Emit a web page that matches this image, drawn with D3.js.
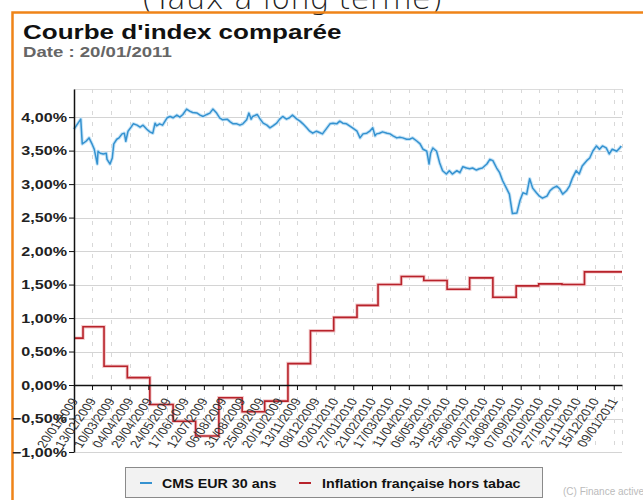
<!DOCTYPE html>
<html>
<head>
<meta charset="utf-8">
<script src="https://cdn.jsdelivr.net/npm/d3@7"></script>
<style>
  html, body { margin: 0; padding: 0; background: #fff; }
  svg { display: block; }
  text { font-family: "Liberation Sans", Arial, sans-serif; }
</style>
</head>
<body>
<svg id="chart" width="643" height="500"></svg>
<script>
// Axis ticks (dd/mm/yyyy)
const tickLabels = ["20/01/2009","13/02/2009","10/03/2009","04/04/2009","29/04/2009","24/05/2009",
  "17/06/2009","12/07/2009","06/08/2009","31/08/2009","25/09/2009","20/10/2009","13/11/2009",
  "08/12/2009","02/01/2010","27/01/2010","21/02/2010","17/03/2010","11/04/2010","06/05/2010",
  "31/05/2010","25/06/2010","20/07/2010","13/08/2010","07/09/2010","02/10/2010","27/10/2010",
  "21/11/2010","15/12/2010","09/01/2011"];
const yTicks = [-1, -0.5, 0, 0.5, 1, 1.5, 2, 2.5, 3, 3.5, 4];

// CMS EUR 30 ans (%)
const cmsDates = ["2009-01-20","2009-01-29","2009-01-31","2009-02-05","2009-02-09","2009-02-13","2009-02-16",
  "2009-02-20","2009-02-21","2009-02-24","2009-02-28","2009-03-04","2009-03-05","2009-03-09","2009-03-12",
  "2009-03-14","2009-03-18","2009-03-21","2009-03-25","2009-03-28","2009-03-30","2009-04-02","2009-04-06",
  "2009-04-09","2009-04-14","2009-04-18","2009-04-22","2009-04-27","2009-05-01","2009-05-05","2009-05-08",
  "2009-05-10","2009-05-14","2009-05-18","2009-05-24","2009-05-28","2009-06-01","2009-06-06","2009-06-10",
  "2009-06-14","2009-06-19","2009-06-23","2009-06-27","2009-07-03","2009-07-07","2009-07-11","2009-07-16",
  "2009-07-20","2009-07-24","2009-07-29","2009-08-02","2009-08-06","2009-08-12","2009-08-16","2009-08-20",
  "2009-08-25","2009-08-29","2009-09-02","2009-09-07","2009-09-10","2009-09-13","2009-09-15","2009-09-21",
  "2009-09-25","2009-09-29","2009-10-04","2009-10-08","2009-10-12","2009-10-17","2009-10-21","2009-10-25",
  "2009-10-30","2009-11-03","2009-11-07","2009-11-13","2009-11-17","2009-11-21","2009-11-26","2009-11-30",
  "2009-12-04","2009-12-09","2009-12-13","2009-12-17","2009-12-23","2009-12-27","2009-12-31","2010-01-05",
  "2010-01-09","2010-01-13","2010-01-18","2010-01-22","2010-01-26","2010-02-01","2010-02-05","2010-02-09",
  "2010-02-14","2010-02-18","2010-02-22","2010-02-25","2010-02-27","2010-03-03","2010-03-07","2010-03-13",
  "2010-03-17","2010-03-21","2010-03-26","2010-03-30","2010-04-03","2010-04-08","2010-04-12","2010-04-16",
  "2010-04-22","2010-04-26","2010-04-30","2010-05-05","2010-05-08","2010-05-10","2010-05-13","2010-05-18",
  "2010-05-22","2010-05-26","2010-05-31","2010-06-04","2010-06-08","2010-06-14","2010-06-18","2010-06-22",
  "2010-06-27","2010-07-01","2010-07-05","2010-07-10","2010-07-14","2010-07-18","2010-07-24","2010-07-28",
  "2010-08-01","2010-08-06","2010-08-10","2010-08-14","2010-08-19","2010-08-23","2010-08-27","2010-09-02",
  "2010-09-06","2010-09-10","2010-09-15","2010-09-19","2010-09-23","2010-09-28","2010-10-02","2010-10-06",
  "2010-10-12","2010-10-16","2010-10-20","2010-10-25","2010-10-29","2010-11-02","2010-11-07","2010-11-11",
  "2010-11-15","2010-11-20","2010-11-24","2010-11-28","2010-12-04","2010-12-08","2010-12-12","2010-12-17",
  "2010-12-21","2010-12-25","2010-12-30","2011-01-03","2011-01-07","2011-01-13","2011-01-17","2011-01-19"];
const cmsRates = [3.82,3.97,3.60,3.64,3.69,3.60,3.52,
  3.30,3.49,3.46,3.45,3.46,3.37,3.30,3.39,
  3.60,3.67,3.69,3.75,3.76,3.64,3.79,3.85,
  3.90,3.88,3.85,3.88,3.82,3.78,3.76,3.91,
  3.87,3.90,3.88,3.99,4.01,3.99,4.03,4.00,
  4.04,4.12,4.09,4.07,4.06,4.03,4.01,4.04,
  4.06,4.12,4.06,3.99,3.96,3.97,3.93,3.90,
  3.90,3.88,3.90,3.96,4.06,3.97,4.01,4.04,
  3.97,3.91,3.88,3.84,3.87,3.91,3.97,4.01,
  3.97,3.99,4.03,3.97,3.94,3.90,3.84,3.79,
  3.76,3.79,3.77,3.75,3.84,3.90,3.91,3.90,
  3.94,3.91,3.90,3.87,3.84,3.79,3.69,3.75,
  3.76,3.79,3.84,3.72,3.75,3.76,3.78,3.76,
  3.75,3.72,3.69,3.70,3.69,3.67,3.67,3.69,
  3.64,3.60,3.52,3.49,3.30,3.46,3.54,3.49,
  3.32,3.20,3.15,3.20,3.15,3.20,3.17,3.26,
  3.24,3.23,3.24,3.21,3.23,3.24,3.30,3.37,
  3.35,3.24,3.17,3.05,2.94,2.85,2.56,2.57,
  2.75,2.87,2.85,3.08,2.94,2.87,2.82,2.79,
  2.82,2.90,2.94,2.97,2.93,2.85,2.90,2.97,
  3.09,3.20,3.15,3.27,3.35,3.39,3.49,3.57,
  3.52,3.57,3.54,3.45,3.52,3.49,3.54,3.57];

// Inflation française hors tabac (%), monthly
const inflDates = ["2009-01-20","2009-02-01","2009-03-01","2009-04-01","2009-05-01","2009-06-01",
  "2009-07-01","2009-08-01","2009-09-01","2009-10-01","2009-11-01","2009-12-01","2010-01-01",
  "2010-02-01","2010-03-01","2010-04-01","2010-05-01","2010-06-01","2010-07-01","2010-08-01",
  "2010-09-01","2010-10-01","2010-11-01","2010-12-01","2011-01-20"];
const inflRates = [0.70,0.87,0.28,0.11,-0.29,-0.54,
  -0.76,-0.19,-0.40,-0.24,0.32,0.81,1.01,
  1.19,1.50,1.62,1.56,1.43,1.60,1.31,
  1.48,1.51,1.50,1.69,1.69];

const seriesNames = ["CMS EUR 30 ans", "Inflation française hors tabac"];
const seriesColors = ["#3592d0", "#b8232b"];

const parseIso = d3.timeParse("%Y-%m-%d");
const parseFr = d3.timeParse("%d/%m/%Y");
const fmtFr = d3.timeFormat("%d/%m/%Y");
const frLocale = d3.formatLocale({decimal: ",", thousands: " ", grouping: [3], currency: ["", " €"]});
const pct = v => frLocale.format(".2f")(v) + "%";

// The chart's typography is drawn wide: text is stretched horizontally
const SX = 1.24;

const svg = d3.select("#chart");

// Page heading cut by the frame
svg.append("text").attr("x", 292).attr("y", 9).attr("text-anchor", "middle")
  .attr("font-size", 31).attr("fill", "#222")
  .style("font-family", "'DejaVu Sans', sans-serif").style("font-weight", 200)
  .text("(Taux à long terme)");

// Orange frame
svg.append("path").attr("d", "M12.5,500 V12.5 H643")
  .attr("fill", "none").attr("stroke", "#ef8418").attr("stroke-width", 2.5);

// Titles
svg.append("text").attr("transform", `translate(23,39) scale(${SX},1)`)
  .attr("font-size", 21).attr("font-weight", "bold")
  .attr("fill", "#111").text("Courbe d'index comparée");
svg.append("text").attr("transform", `translate(23,57) scale(${SX},1)`)
  .attr("font-size", 15).attr("font-weight", "bold")
  .attr("fill", "#666").text("Date : 20/01/2011");

// Scales
const x = d3.scaleTime().domain([parseIso("2009-01-20"), parseIso("2011-01-20")]).range([74, 622]);
const y = d3.scaleLinear().domain([-1, 4.42]).range([452, 89]);

const tickDates = tickLabels.map(parseFr);

// Grid
const grid = svg.append("g");
grid.selectAll("line.h").data(yTicks).join("line").attr("class", "h")
  .attr("x1", 74).attr("x2", 622).attr("y1", d => Math.round(y(d)) + 0.5).attr("y2", d => Math.round(y(d)) + 0.5)
  .attr("stroke", "#d4d4d4").attr("stroke-width", 1);
grid.append("line").attr("x1", 74).attr("x2", 622).attr("y1", 89.5).attr("y2", 89.5)
  .attr("stroke", "#dcdcdc");
grid.selectAll("line.v").data(tickDates.concat([x.domain()[1]])).join("line").attr("class", "v")
  .attr("x1", d => Math.round(x(d)) + 0.5).attr("x2", d => Math.round(x(d)) + 0.5)
  .attr("y1", 89).attr("y2", 452)
  .attr("stroke", "#d8d8d8").attr("stroke-dasharray", "4,7");

// Lines
const cms = cmsDates.map((d, i) => ({date: parseIso(d), v: cmsRates[i]}));
const infl = inflDates.map((d, i) => ({date: parseIso(d), v: inflRates[i]}));

svg.append("path").datum(infl)
  .attr("fill", "none").attr("stroke", "#f3c9cb").attr("stroke-width", 3.5)
  .attr("d", d3.line().x(d => x(d.date)).y(d => y(d.v)).curve(d3.curveStepAfter));
svg.append("path").datum(infl)
  .attr("fill", "none").attr("stroke", seriesColors[1]).attr("stroke-width", 1.6)
  .attr("d", d3.line().x(d => x(d.date)).y(d => y(d.v)).curve(d3.curveStepAfter));

svg.append("path").datum(cms)
  .attr("fill", "none").attr("stroke", "#c6e4f7").attr("stroke-width", 3.5).attr("stroke-linejoin", "round")
  .attr("d", d3.line().x(d => x(d.date)).y(d => y(d.v)));
svg.append("path").datum(cms)
  .attr("fill", "none").attr("stroke", seriesColors[0]).attr("stroke-width", 1.5).attr("stroke-linejoin", "round")
  .attr("d", d3.line().x(d => x(d.date)).y(d => y(d.v)));

// Y axis
const yAxis = svg.append("g").attr("transform", "translate(74,0)")
  .call(d3.axisLeft(y).tickValues(yTicks).tickFormat(pct).tickSize(5).tickSizeOuter(0));
yAxis.select(".domain").attr("stroke", "#111").attr("stroke-width", 1.5);
yAxis.selectAll(".tick line").attr("stroke", "#111");
yAxis.selectAll(".tick text").attr("font-size", 13).attr("font-weight", "bold").attr("fill", "#222")
  .attr("x", 0).attr("transform", `translate(-7,0) scale(${SX},1)`)
  .style("font-family", "'Liberation Sans', Arial, sans-serif");

// X axis on the zero line
const xAxis = svg.append("g").attr("transform", `translate(0,${y(0)})`)
  .call(d3.axisBottom(x).tickValues(tickDates).tickFormat(fmtFr).tickSize(5).tickSizeOuter(0));
xAxis.select(".domain").attr("stroke", "#111").attr("stroke-width", 1.5);
xAxis.selectAll(".tick line").attr("stroke", "#111");
xAxis.selectAll(".tick text")
  .attr("font-size", 11).attr("fill", "#333").attr("text-anchor", "end")
  .attr("x", 0).attr("y", 0).attr("dy", 0)
  .attr("transform", `translate(4,16) scale(${SX},1) rotate(-60)`)
  .style("font-family", "'Liberation Sans', Arial, sans-serif");

// Legend
const lg = svg.append("g");
lg.append("rect").attr("x", 125.5).attr("y", 467.5).attr("width", 417).attr("height", 30)
  .attr("fill", "#f2f2f2").attr("stroke", "#8a8a8a");
const items = [{x: 140, tx: 162}, {x: 299, tx: 322}];
items.forEach((it, i) => {
  lg.append("line").attr("x1", it.x).attr("x2", it.x + 12).attr("y1", 483).attr("y2", 483)
    .attr("stroke", seriesColors[i]).attr("stroke-width", 2);
  lg.append("text").attr("transform", `translate(${it.tx},487.5) scale(1.1,1)`)
    .attr("font-size", 13).attr("font-weight", "bold")
    .attr("fill", "#111").text(seriesNames[i]);
});

// Credit
svg.append("text").attr("x", 563).attr("y", 495).attr("font-size", 10).attr("fill", "#bbb")
  .text("(C) Finance active");
</script>
</body>
</html>
